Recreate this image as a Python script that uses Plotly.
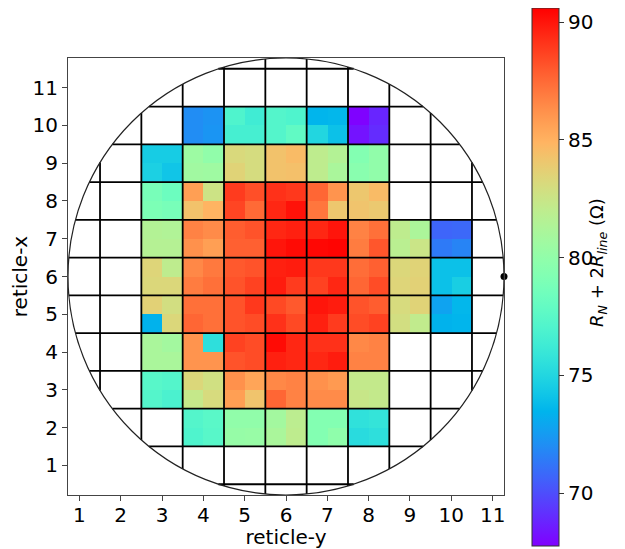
import math
import plotly.graph_objects as go

N = None
# reticle-y (x-axis) sub-column centres: each reticle split into 2x2 sub-cells
reticle_cols = [3, 4, 5, 6, 7, 8, 9, 10]
reticle_rows = [10, 9, 8, 7, 6, 5, 4, 3, 2]
tick_vals = list(range(1, 12))
cbar_ticks = [70, 75, 80, 85, 90]

# values per reticle row: [top sub-row, bottom sub-row], 16 sub-columns (cols 3..10, left/right)
rx10 = [[N, N, 72.0, 72.2, 77.0, 76.3, 77.2, 77.0, 73.5, 73.6, 67.8, 68.8, N, N, N, N],
        [N, N, 72.0, 72.3, 76.6, 76.6, 77.2, 77.8, 75.0, 74.0, 68.3, 69.0, N, N, N, N]]
rx9 = [[74.5, 74.5, 80.5, 80.0, 83.2, 83.0, 84.3, 84.6, 82.0, 81.5, 79.3, 80.0, N, N, N, N],
       [74.7, 74.2, 80.7, 80.6, 83.5, 83.0, 84.3, 84.4, 82.0, 81.1, 79.6, 80.0, N, N, N, N]]
rx8 = [[78.8, 78.3, 85.7, 82.6, 88.9, 88.3, 89.2, 89.0, 87.6, 86.1, 84.1, 84.6, N, N, N, N],
       [79.0, 78.8, 84.3, 84.9, 88.6, 87.5, 89.5, 90.1, 87.1, 84.1, 84.2, 84.0, N, N, N, N]]
rx7 = [[81.5, 81.4, 86.7, 86.4, 87.9, 88.2, 89.5, 89.7, 89.5, 90.0, 86.7, 87.3, 82.0, 81.2, 70.7, 70.8],
       [81.6, 81.6, 86.2, 85.7, 87.8, 87.8, 90.0, 90.3, 90.4, 90.5, 86.9, 88.1, 81.8, 82.5, 71.4, 71.7]]
rx6 = [[83.4, 82.0, 86.5, 87.0, 88.0, 88.2, 89.7, 89.8, 89.0, 89.0, 87.4, 87.8, 83.3, 83.5, 74.0, 74.0],
       [83.3, 83.3, 86.9, 87.3, 88.2, 88.7, 89.8, 88.9, 88.7, 89.5, 87.6, 88.4, 83.4, 83.6, 74.0, 74.6]]
rx5 = [[83.6, 82.9, 87.3, 87.3, 88.2, 89.0, 88.5, 88.0, 90.0, 89.8, 88.2, 87.9, 83.1, 83.5, 72.8, 73.6],
       [73.4, 83.3, 87.6, 87.3, 88.2, 88.4, 89.2, 88.5, 89.7, 88.9, 88.4, 88.7, 82.9, 82.1, 73.4, 73.5]]
rx4 = [[81.1, 80.8, 86.1, 75.5, 88.7, 88.4, 90.3, 89.5, 89.2, 89.2, 86.5, 86.7, N, N, N, N],
       [81.1, 81.1, 86.1, 86.1, 88.2, 88.4, 89.7, 89.5, 89.5, 89.8, 86.7, 86.7, N, N, N, N]]
rx3 = [[77.4, 77.2, 83.3, 82.8, 86.2, 85.5, 86.5, 86.7, 86.2, 85.9, 82.2, 82.2, N, N, N, N],
       [77.2, 76.8, 82.3, 83.1, 85.7, 84.2, 87.6, 86.7, 86.4, 86.4, 82.4, 82.2, N, N, N, N]]
rx2 = [[N, N, 77.2, 77.5, 80.0, 80.0, 80.8, 81.9, 79.3, 79.3, 75.6, 75.8, N, N, N, N],
       [N, N, 77.0, 77.4, 80.2, 80.3, 81.1, 82.0, 79.3, 79.9, 75.3, 75.5, N, N, N, N]]

ZMIN, ZMAX = 67.75, 90.6

# ---- build sub-cell grid ----
row_data = [rx10, rx9, rx8, rx7, rx6, rx5, rx4, rx3, rx2]
sub_x = []
for c in reticle_cols:
    sub_x += [c - 0.25, c + 0.25]
sub_y = []
z = []
for r, d in zip(reticle_rows, row_data):
    sub_y += [r + 0.25, r - 0.25]
    z += [d[0], d[1]]

# matplotlib 'rainbow' colormap
def rainbow(t):
    r = min(1, abs(2 * t - 0.5))
    g = math.sin(math.pi * t)
    b = math.cos(math.pi * t / 2)
    return "rgb(%d,%d,%d)" % (round(r * 255), round(g * 255), round(b * 255))

cscale = [[i / 32, rainbow(i / 32)] for i in range(33)]

# wafer geometry (data coords)
CX, CY = 6.0, 6.0
RX, RY = 5.275, 5.785
xr = [CX - RX, CX + RX]
yr = [CY - RY, CY + RY]

FONT = dict(family="DejaVu Sans", size=20, color="black")

fig = go.Figure()
fig.add_trace(go.Heatmap(
    x=sub_x, y=sub_y, z=z, colorscale=cscale, zmin=ZMIN, zmax=ZMAX,
    hoverongaps=False, xgap=0, ygap=0,
    colorbar=dict(
        thickness=27, len=538, lenmode="pixels", y=0.4989, yanchor="middle",
        x=1.0635, xanchor="left", xpad=0, ypad=0,
        outlinewidth=1, outlinecolor="#333",
        tickvals=cbar_ticks, ticks="outside", ticklen=5, tickcolor="#333",
        tickfont=FONT,
    ),
))

shapes = []
# vertical reticle lines
for k in range(1, 11):
    v = k + 0.5
    u = (v - CX) / RX
    if abs(u) < 1:
        h = RY * math.sqrt(1 - u * u)
        shapes.append(dict(type="line", xref="x", yref="y", x0=v, x1=v, y0=CY - h, y1=CY + h,
                           line=dict(color="black", width=1.8), layer="above"))
for k in range(0, 12):
    v = k + 0.5
    u = (v - CY) / RY
    if abs(u) < 1:
        h = RX * math.sqrt(1 - u * u)
        shapes.append(dict(type="line", xref="x", yref="y", y0=v, y1=v, x0=CX - h, x1=CX + h,
                           line=dict(color="black", width=1.8), layer="above"))
shapes.append(dict(type="circle", xref="x", yref="y", x0=xr[0], x1=xr[1], y0=yr[0], y1=yr[1],
                   line=dict(color="#222", width=1.2), layer="above"))

fig.add_trace(go.Scatter(x=[CX + RX], y=[CY], mode="markers",
                         marker=dict(color="black", size=7), cliponaxis=False,
                         showlegend=False, hoverinfo="skip"))

axis_common = dict(
    showgrid=False, zeroline=False, showline=True, linecolor="#444", linewidth=1,
    mirror=True, ticks="outside", ticklen=5, tickcolor="#444",
    tickvals=tick_vals, tickfont=FONT, automargin=False,
)
# the page body adds an 8px offset, so the figure is 617x541 and margins are shifted by 8px
fig.update_layout(
    width=617, height=541,
    margin=dict(l=60, r=121, t=50, b=54, autoexpand=False),
    plot_bgcolor="white", paper_bgcolor="white",
    shapes=shapes, showlegend=False,
    xaxis=dict(range=xr, ticklabelstandoff=-3,
               title=dict(text="reticle-y", standoff=2, font=FONT), **axis_common),
    yaxis=dict(range=yr, title=dict(text="reticle-x", standoff=1, font=FONT), **axis_common),
    annotations=[dict(
        text="<i>R</i><sub><i>N</i></sub> + 2<i>R</i><sub><i>line</i></sub> (Ω)",
        xref="paper", yref="paper", x=1.2156, y=0.531, textangle=-90,
        showarrow=False, font=dict(family="DejaVu Sans", size=18, color="black"),
        xanchor="center", yanchor="middle")],
)

fig.write_html("out.html")
